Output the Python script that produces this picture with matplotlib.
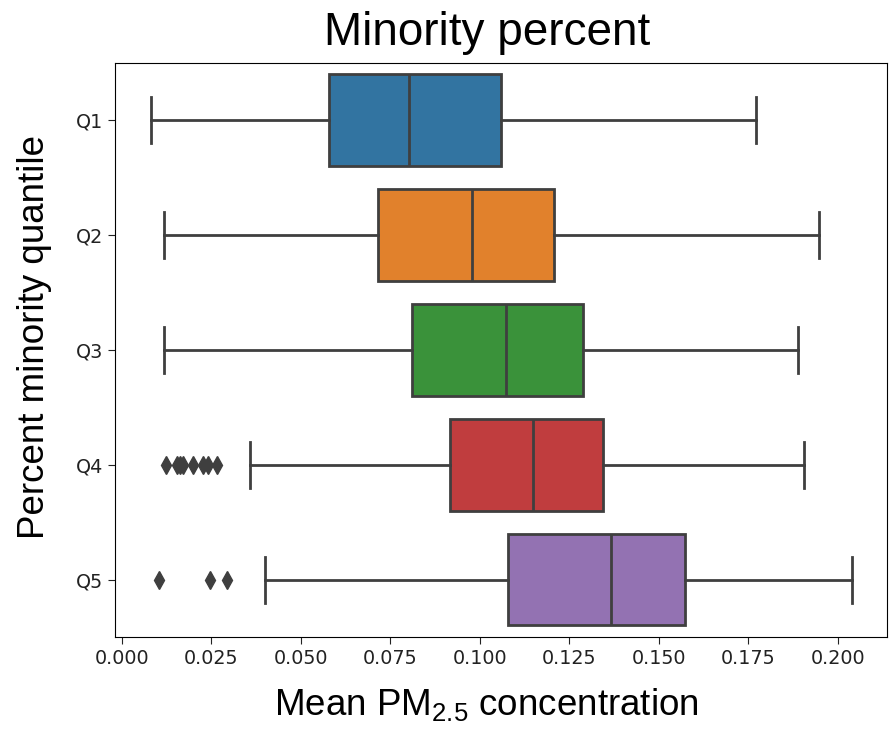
import numpy as np
import matplotlib.pyplot as plt

plt.rcParams['mathtext.default'] = 'regular'

groups = ["Q1", "Q2", "Q3", "Q4", "Q5"]
colors = ["#3274a1", "#e1812c", "#3a923a", "#c03d3e", "#9372b2"]

# box statistics (Mean PM2.5)
whislo = [0.0081, 0.0119, 0.0119, 0.0359, 0.0401]
q1     = [0.0579, 0.0715, 0.0810, 0.0917, 0.1078]
med    = [0.0802, 0.0979, 0.1072, 0.1148, 0.1367]
q3     = [0.1059, 0.1206, 0.1289, 0.1344, 0.1572]
whishi = [0.1770, 0.1948, 0.1887, 0.1904, 0.2040]
fliers = [[], [], [],
          [0.0124, 0.0154, 0.0163, 0.0172, 0.0200, 0.0228, 0.0242, 0.0266],
          [0.0104, 0.0247, 0.0295]]

xticks = [0.000, 0.025, 0.050, 0.075, 0.100, 0.125, 0.150, 0.175, 0.200]

stats = []
for i in range(len(groups)):
    stats.append(dict(label=groups[i], whislo=whislo[i], q1=q1[i], med=med[i],
                      q3=q3[i], whishi=whishi[i], fliers=fliers[i]))

line_col = "#3f3f3f"
lw = 2.0

fig = plt.figure(figsize=(8.89, 7.34), dpi=100)
ax = fig.add_axes([0.1294, 0.1322, 0.8684, 0.782])

bp = ax.bxp(stats, positions=np.arange(len(groups)), widths=0.8, vert=False,
            patch_artist=True,
            boxprops=dict(edgecolor=line_col, linewidth=lw),
            medianprops=dict(color=line_col, linewidth=lw),
            whiskerprops=dict(color=line_col, linewidth=lw),
            capprops=dict(color=line_col, linewidth=lw),
            flierprops=dict(marker='d', markerfacecolor=line_col, markeredgecolor=line_col,
                            markersize=9, linestyle='none'))
for patch, c in zip(bp['boxes'], colors):
    patch.set_facecolor(c)

ax.set_ylim(len(groups) - 0.5, -0.5)
ax.set_xlim(-0.00184, 0.2137)
ax.set_yticks(np.arange(len(groups)))
ax.set_yticklabels(groups)
ax.set_xticks(xticks)
ax.set_xticklabels(["%.3f" % t for t in xticks])
ax.tick_params(labelsize=13.8, length=5, colors='#222222')

fig.text(0.548, 0.9387, "Minority percent", family="Liberation Sans",
         fontsize=33, ha='center', va='baseline')
fig.text(0.039, 0.541, "Percent minority quantile", family="Liberation Sans",
         fontsize=26.5, rotation=90, ha='center', va='center')
fig.text(0.547, 0.0259, "Mean PM$_{2.5}$ concentration", family="Liberation Sans",
         fontsize=26.5, ha='center', va='baseline')

fig.savefig("out.png", dpi=100)
